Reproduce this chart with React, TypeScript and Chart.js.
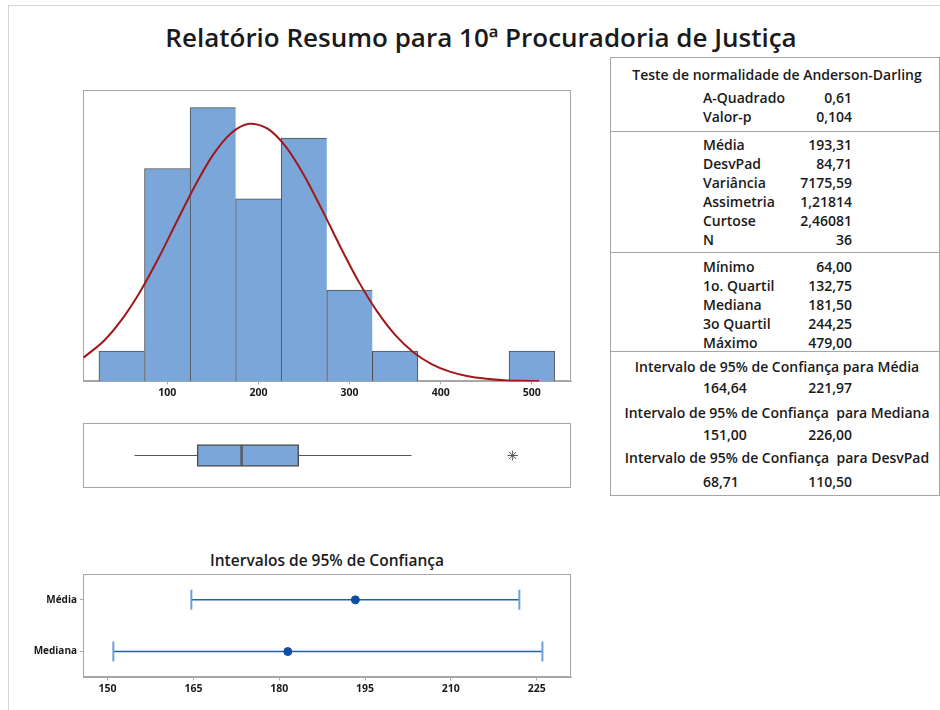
import React, { useEffect, useRef } from 'react';
import { Chart, registerables } from 'chart.js';

Chart.register(...registerables);

const FONT = '"Open Sans", "Noto Sans", "DejaVu Sans", sans-serif';
const TEXT = '#1a1a1a';
const AXIS_GRAY = '#a6a6a6';
const BAR_FILL = '#7ba6d9';
const BAR_EDGE = '#4f4f4f';
const CURVE = '#a01818';

const reportTitle = 'Relatório Resumo para 10ª Procuradoria de Justiça';

// Histogram
const binCenters = [50, 100, 150, 200, 250, 300, 350, 500];
const binCounts = [1, 7, 9, 6, 8, 3, 1, 1];
const binWidth = 50;
const histTicks = [100, 200, 300, 400, 500];
const histMin = 7.5;
const histMax = 543;
const histMaxY = 9.58;
const curveX = [8, 30, 50, 70, 90, 110, 130, 150, 170, 190, 210, 230, 250, 270, 290, 310, 330, 350, 370, 390, 410, 430, 450, 470, 490, 508];
const curveY = [0.78, 1.32, 2.03, 2.94, 4.03, 5.23, 6.41, 7.44, 8.16, 8.47, 8.31, 7.72, 6.78, 5.63, 4.42, 3.28, 2.31, 1.53, 0.96, 0.57, 0.32, 0.17, 0.09, 0.04, 0.02, 0.01];

// Boxplot
const boxLowWhisker = 64;
const boxQ1 = 132.75;
const boxMedian = 181.5;
const boxQ3 = 244.25;
const boxHighWhisker = 368;
const boxOutliers = [479];

// Confidence intervals
const ciTitle = 'Intervalos de 95% de Confiança';
const ciLabels = ['Média', 'Mediana'];
const ciEstimates = [193.31, 181.5];
const ciLower = [164.64, 151.0];
const ciUpper = [221.97, 226.0];
const ciTicks = [150, 165, 180, 195, 210, 225];
const ciMin = 145.7;
const ciMax = 231;

// Summary table
const adTitle = 'Teste de normalidade de Anderson-Darling';
const adLabels = ['A-Quadrado', 'Valor-p'];
const adValues = ['0,61', '0,104'];
const momentLabels = ['Média', 'DesvPad', 'Variância', 'Assimetria', 'Curtose', 'N'];
const momentValues = ['193,31', '84,71', '7175,59', '1,21814', '2,46081', '36'];
const quartileLabels = ['Mínimo', '1o. Quartil', 'Mediana', '3o Quartil', 'Máximo'];
const quartileValues = ['64,00', '132,75', '181,50', '244,25', '479,00'];
const intervalTitles = [
  'Intervalo de 95% de Confiança para Média',
  'Intervalo de 95% de Confiança  para Mediana',
  'Intervalo de 95% de Confiança  para DesvPad',
];
const intervalLow = ['164,64', '151,00', '68,71'];
const intervalHigh = ['221,97', '226,00', '110,50'];

const framePlugin = {
  id: 'frame',
  beforeDatasetsDraw(chart: any) {
    const { ctx, chartArea: a } = chart;
    ctx.save();
    ctx.strokeStyle = AXIS_GRAY;
    ctx.lineWidth = 1;
    ctx.strokeRect(Math.round(a.left) + 0.5, Math.round(a.top) + 0.5, Math.round(a.right - a.left) - 1, Math.round(a.bottom - a.top) - 1);
    ctx.restore();
  },
};

const tickFont = { family: FONT, size: 10.5, weight: 'bold' as const };

function ChartCanvas({ make, left, top, width, height }: any) {
  const ref = useRef<HTMLCanvasElement>(null);
  useEffect(() => {
    const chart = new Chart(ref.current as HTMLCanvasElement, make());
    return () => chart.destroy();
  }, []);
  return (
    <canvas
      ref={ref}
      width={width}
      height={height}
      style={{ position: 'absolute', left, top, width, height, display: 'block' }}
    />
  );
}

function histConfig(): any {
  return {
    type: 'bar',
    data: {
      datasets: [
        {
          type: 'line',
          data: curveX.map((x, i) => ({ x, y: curveY[i] })),
          borderColor: CURVE,
          borderWidth: 2,
          pointRadius: 0,
          tension: 0.3,
          order: 0,
        },
        {
          type: 'bar',
          data: binCenters.map((x, i) => ({ x, y: binCounts[i] })),
          backgroundColor: BAR_FILL,
          borderColor: BAR_EDGE,
          borderWidth: (c: any) => {
            const i = c.dataIndex;
            const lastInRun = i === binCenters.length - 1 || binCenters[i + 1] - binCenters[i] > binWidth;
            return { top: 1, left: 1, bottom: 0, right: lastInRun ? 1 : 0 };
          },
          borderSkipped: false,
          barPercentage: 1,
          categoryPercentage: 1,
          order: 1,
        },
      ],
    },
    options: {
      responsive: false,
      animation: false,
      layout: { padding: { left: 23, right: 19, top: 10, bottom: 9 } },
      plugins: { legend: { display: false }, tooltip: { enabled: false } },
      scales: {
        x: {
          type: 'linear',
          offset: false,
          min: histMin,
          max: histMax,
          afterBuildTicks: (s: any) => {
            s.ticks = histTicks.map((v) => ({ value: v }));
          },
          ticks: { font: tickFont, color: TEXT, padding: 2 },
          grid: { offset: false, drawOnChartArea: false, drawTicks: true, tickLength: 3, color: AXIS_GRAY },
          border: { display: true, color: AXIS_GRAY },
        },
        y: { type: 'linear', min: 0, max: histMaxY, display: false },
      },
    },
    plugins: [framePlugin],
  };
}

function boxConfig(): any {
  const whisker = (a: number, b: number) => ({
    type: 'line',
    data: [{ x: a, y: 0 }, { x: b, y: 0 }],
    borderColor: '#555555',
    borderWidth: 1,
    pointRadius: 0,
  });
  return {
    type: 'bar',
    data: {
      datasets: [
        whisker(boxLowWhisker, boxQ1),
        whisker(boxQ3, boxHighWhisker),
        {
          type: 'scatter',
          data: boxOutliers.map((x) => ({ x, y: 0 })),
          pointStyle: 'star',
          pointRadius: 5,
          borderColor: '#555555',
          borderWidth: 1,
        },
        {
          type: 'bar',
          data: [{ x: [boxQ1, boxMedian], y: 0 }],
          backgroundColor: BAR_FILL,
          borderColor: BAR_EDGE,
          borderWidth: 1.5,
          borderSkipped: false,
          barThickness: 22,
          grouped: false,
        },
        {
          type: 'bar',
          data: [{ x: [boxMedian, boxQ3], y: 0 }],
          backgroundColor: BAR_FILL,
          borderColor: BAR_EDGE,
          borderWidth: 1.5,
          borderSkipped: false,
          barThickness: 22,
          grouped: false,
        },
      ],
    },
    options: {
      indexAxis: 'y',
      responsive: false,
      animation: false,
      layout: { padding: { left: 23, right: 19, top: 13, bottom: 22 } },
      plugins: { legend: { display: false }, tooltip: { enabled: false } },
      scales: {
        x: { type: 'linear', offset: false, min: histMin, max: histMax, display: false },
        y: { type: 'linear', offset: false, min: -1, max: 1, display: false },
      },
    },
    plugins: [framePlugin],
  };
}

function ciConfig(): any {
  const intervals = ciLabels.map((lab, i) => ({
    data: [
      { x: ciLower[i], y: lab },
      { x: ciUpper[i], y: lab },
    ],
    showLine: true,
    borderColor: '#1f5fae',
    borderWidth: 1.5,
    pointStyle: 'line',
    pointRotation: 90,
    pointRadius: 10,
    pointBorderColor: '#6f9fd9',
    pointBorderWidth: 2,
  }));
  return {
    type: 'scatter',
    data: {
      datasets: [
        {
          data: ciLabels.map((lab, i) => ({ x: ciEstimates[i], y: lab })),
          pointRadius: 4,
          pointBackgroundColor: '#0b4ea2',
          pointBorderColor: '#0b4ea2',
          showLine: false,
        },
        ...intervals,
      ],
    },
    options: {
      responsive: false,
      animation: false,
      layout: { padding: { left: 23, right: 19, top: 14, bottom: 13 } },
      plugins: { legend: { display: false }, tooltip: { enabled: false } },
      scales: {
        x: {
          type: 'linear',
          min: ciMin,
          max: ciMax,
          afterBuildTicks: (s: any) => {
            s.ticks = ciTicks.map((v) => ({ value: v }));
          },
          ticks: { font: tickFont, color: TEXT, padding: 2 },
          grid: { drawOnChartArea: false, drawTicks: true, tickLength: 3, color: AXIS_GRAY },
          border: { display: true, color: AXIS_GRAY },
        },
        y: {
          type: 'category',
          labels: ciLabels,
          offset: true,
          afterFit: (s: any) => {
            s.width = 60;
          },
          ticks: { font: { family: FONT, size: 10, weight: 'bold' }, color: TEXT, padding: 3 },
          grid: { drawOnChartArea: false, drawTicks: true, tickLength: 3, color: AXIS_GRAY },
          border: { display: true, color: AXIS_GRAY },
        },
      },
    },
    plugins: [framePlugin],
  };
}

const tableText: React.CSSProperties = {
  position: 'absolute',
  height: 18,
  lineHeight: '18px',
  fontSize: 14,
  fontWeight: 600,
  whiteSpace: 'pre',
};

function Line({ y, left, width, align, children }: any) {
  return (
    <div style={{ ...tableText, top: y - 9, left, width, textAlign: align }}>{children}</div>
  );
}

function LabelValue({ y, label, value }: any) {
  return (
    <>
      <Line y={y} left={703} width={140} align="left">{label}</Line>
      <Line y={y} left={752} width={100} align="right">{value}</Line>
    </>
  );
}

function Sep({ y }: any) {
  return <div style={{ position: 'absolute', left: 610, top: y, width: 329, height: 1, background: AXIS_GRAY }} />;
}

function SummaryTable() {
  const rowStep = 18.9;
  return (
    <>
      <div style={{ position: 'absolute', left: 610, top: 57, width: 328, height: 437, border: `1px solid ${AXIS_GRAY}` }} />
      <Line y={75} left={612} width={330} align="center">{adTitle}</Line>
      {adLabels.map((l, i) => (
        <LabelValue key={l} y={98.3 + i * rowStep} label={l} value={adValues[i]} />
      ))}
      <Sep y={131} />
      {momentLabels.map((l, i) => (
        <LabelValue key={l} y={145 + i * rowStep} label={l} value={momentValues[i]} />
      ))}
      <Sep y={252} />
      {quartileLabels.map((l, i) => (
        <LabelValue key={l} y={267 + i * rowStep} label={l} value={quartileValues[i]} />
      ))}
      <Sep y={351} />
      {intervalTitles.map((t, i) => (
        <React.Fragment key={t}>
          <Line y={366.7 + i * 45.8} left={610} width={334} align="center">{t}</Line>
          <Line y={387.7 + i * 47} left={703} width={100} align="left">{intervalLow[i]}</Line>
          <Line y={387.7 + i * 47} left={752} width={100} align="right">{intervalHigh[i]}</Line>
        </React.Fragment>
      ))}
    </>
  );
}

export default function App() {
  return (
    <div
      style={{
        position: 'absolute',
        left: 0,
        top: 0,
        width: 940,
        height: 710,
        background: '#ffffff',
        fontFamily: FONT,
        color: TEXT,
        overflow: 'hidden',
      }}
    >
      <div style={{ position: 'absolute', left: 8, top: 5, width: 940, height: 710, borderLeft: '1px solid #d6d6d6', borderTop: '1px solid #d6d6d6' }} />
      <div
        style={{
          position: 'absolute',
          left: 0,
          top: 19,
          width: 962,
          height: 36,
          lineHeight: '36px',
          textAlign: 'center',
          fontSize: 26,
          fontWeight: 600,
          whiteSpace: 'nowrap',
        }}
      >
        {reportTitle}
      </div>
      <ChartCanvas make={histConfig} left={60} top={80} width={530} height={330} />
      <ChartCanvas make={boxConfig} left={60} top={410} width={530} height={100} />
      <div
        style={{
          position: 'absolute',
          left: 127,
          top: 549,
          width: 400,
          height: 22,
          lineHeight: '22px',
          textAlign: 'center',
          fontSize: 15.5,
          fontWeight: 600,
        }}
      >
        {ciTitle}
      </div>
      <ChartCanvas make={ciConfig} left={0} top={560} width={590} height={150} />
      <SummaryTable />
    </div>
  );
}
